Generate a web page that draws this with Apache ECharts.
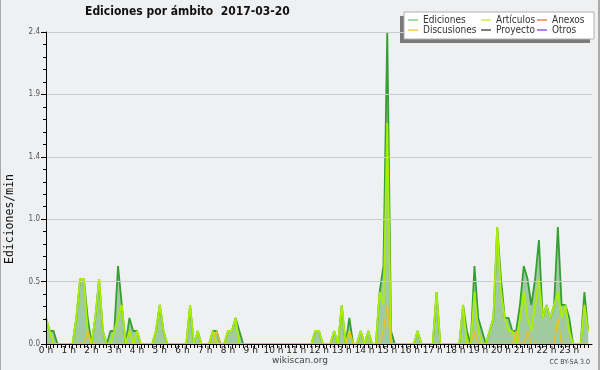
<!DOCTYPE html>
<html>
<head>
<meta charset="utf-8">
<script src="https://cdn.jsdelivr.net/npm/echarts@6/dist/echarts.min.js"></script>
<style>
html,body{margin:0;padding:0;background:#eff0f2;}
#c{width:600px;height:370px;}
</style>
</head>
<body>
<div id="c"></div>
<script>
// Edits per minute, one value per 10-minute slot (0:00 .. 23:50)
const ediciones = [
0.2,0.1,0.1,0,0,0, 0,0,0.2,0.5,0.5,0.2,
0,0.2,0.5,0.1,0,0.1, 0.1,0.6,0.3,0,0.2,0.1,
0.1,0,0,0,0,0.1, 0.3,0.1,0,0,0,0,
0,0,0.3,0,0.1,0, 0,0,0.1,0.1,0,0,
0.1,0.1,0.2,0.1,0,0, 0,0,0,0,0,0,
0,0,0,0,0,0, 0,0,0,0,0,0.1,
0.1,0,0,0,0.1,0, 0.3,0,0.2,0,0,0.1,
0,0.1,0,0,0.4,0.6, 2.4,0.1,0,0,0,0,
0,0,0.1,0,0,0, 0,0.4,0,0,0,0,
0,0,0.3,0.1,0,0.6, 0.2,0.1,0,0.1,0.2,0.9,
0.5,0.2,0.2,0.1,0.1,0.3, 0.6,0.5,0.3,0.5,0.8,0.2,
0.3,0.2,0.3,0.9,0.3,0.3, 0.2,0,0,0,0.4,0.1
];
const articulos = [
0.2,0.1,0,0,0,0, 0,0,0.2,0.5,0.5,0.1,
0,0.2,0.5,0.1,0,0, 0.1,0.2,0.3,0,0.1,0,
0.1,0,0,0,0,0.1, 0.3,0.1,0,0,0,0,
0,0,0.3,0,0.1,0, 0,0,0.1,0,0,0,
0.1,0.1,0.2,0,0,0, 0,0,0,0,0,0,
0,0,0,0,0,0, 0,0,0,0,0,0.1,
0.1,0,0,0,0.1,0, 0.3,0,0.1,0,0,0.1,
0,0.1,0,0,0.4,0.3, 1.7,0,0,0,0,0,
0,0,0.1,0,0,0, 0,0.4,0,0,0,0,
0,0,0.3,0,0,0.4, 0.1,0,0,0.1,0.2,0.9,
0.4,0.2,0.1,0.1,0,0.2, 0.4,0.2,0.1,0.3,0.5,0.2,
0.3,0.2,0.3,0.4,0.2,0.3, 0.1,0,0,0,0.3,0.1
];
const discusiones = [
0,0,0,0,0,0, 0,0,0,0,0,0.1,
0,0,0,0,0,0, 0,0,0,0,0,0,
0,0,0,0,0,0, 0,0,0,0,0,0,
0,0,0,0,0,0, 0,0,0,0.1,0,0,
0,0,0,0,0,0, 0,0,0,0,0,0,
0,0,0,0,0,0, 0,0,0,0,0,0,
0,0,0,0,0,0, 0,0,0.1,0,0,0,
0,0,0,0,0,0.1, 0.3,0,0,0,0,0,
0,0,0,0,0,0, 0,0,0,0,0,0,
0,0,0,0,0,0.1, 0,0,0,0,0,0,
0,0,0,0,0.1,0, 0,0.1,0,0,0,0,
0,0,0,0.2,0,0, 0,0,0,0,0,0
];
const anexos = [];
const proyecto = [];
const otros = [];
const hourLabels = ['0 h','1 h','2 h','3 h','4 h','5 h','6 h','7 h','8 h','9 h','10 h','11 h',
  '12 h','13 h','14 h','15 h','16 h','17 h','18 h','19 h','20 h','21 h','22 h','23 h'];
const yTickLabels = ['0.0','0.5','1.0','1.4','1.9','2.4'];
const slotMinutes = 10;

const pts = arr => arr.map((v, i) => [i * slotMinutes, v]);

const chart = echarts.init(document.getElementById('c'), null, {renderer: 'canvas'});
const legendFont = {fontFamily: 'DejaVu Sans Condensed, DejaVu Sans', fontSize: 10, color: '#333', lineHeight: 10};
const legendBase = {orient: 'vertical', top: 15, padding: 0, itemGap: 0, itemWidth: 10, itemHeight: 1.5, icon: 'rect', textStyle: legendFont, selectedMode: false, z: 30};

chart.setOption({
  animation: false,
  backgroundColor: '#eff0f2',
  grid: {left: 46, right: 8, top: 32, bottom: 26},
  xAxis: {
    type: 'value', min: 0, max: 1440, interval: 10, z: 10,
    axisLine: {lineStyle: {color: '#000', width: 1}},
    axisTick: {show: true, length: 4, lineStyle: {color: '#000'}},
    splitLine: {show: false},
    axisLabel: {
      margin: 2, fontSize: 9, color: '#222', fontFamily: 'DejaVu Sans',
      showMaxLabel: false,
      formatter: v => (v % 60 === 0 && v / 60 < hourLabels.length) ? hourLabels[v / 60] : ''
    }
  },
  yAxis: {
    type: 'value', min: 0, max: 2.4, interval: 0.48, z: 10,
    axisLine: {show: true, lineStyle: {color: '#000', width: 1}},
    axisTick: {show: true, length: 5, lineStyle: {color: '#000'}},
    minorTick: {show: true, splitNumber: 5, length: 3, lineStyle: {color: '#000'}},
    splitLine: {show: true, lineStyle: {color: '#cbcbcb', width: 1}},
    axisLabel: {
      margin: 6, fontSize: 8, color: '#555', fontFamily: 'DejaVu Sans Condensed, DejaVu Sans',
      formatter: v => yTickLabels[Math.round(v / 0.48)]
    }
  },
  legend: [
    Object.assign({}, legendBase, {left: 408, data: [
      {name: 'Ediciones', itemStyle: {color: '#88cc88'}},
      {name: 'Discusiones', itemStyle: {color: '#f5cc44'}}]}),
    Object.assign({}, legendBase, {left: 481, data: [
      {name: 'Artículos', itemStyle: {color: '#ccee55'}},
      {name: 'Proyecto', itemStyle: {color: '#555555'}}]}),
    Object.assign({}, legendBase, {left: 537, data: [
      {name: 'Anexos', itemStyle: {color: '#f08050'}},
      {name: 'Otros', itemStyle: {color: '#9955ee'}}]})
  ],
  series: [
    {name: 'Ediciones', type: 'line', data: pts(ediciones), showSymbol: false, z: 2,
      itemStyle: {color: '#88cc88'}, lineStyle: {color: '#33a033', width: 1.8},
      areaStyle: {color: '#a0caa0', opacity: 1}},
    {name: 'Artículos', type: 'line', data: pts(articulos), showSymbol: false, z: 3,
      itemStyle: {color: '#ccee55'}, lineStyle: {color: '#aaee00', width: 1.8}},
    {name: 'Discusiones', type: 'line', data: pts(discusiones), showSymbol: false, z: 4,
      itemStyle: {color: '#f5cc44'}, lineStyle: {color: '#f0c020', width: 1.3}},
    {name: 'Anexos', type: 'line', data: pts(anexos), showSymbol: false, itemStyle: {color: '#f08050'}},
    {name: 'Proyecto', type: 'line', data: pts(proyecto), showSymbol: false, itemStyle: {color: '#555555'}},
    {name: 'Otros', type: 'line', data: pts(otros), showSymbol: false, itemStyle: {color: '#9955ee'}}
  ],
  graphic: [
    {type: 'rect', z: 10, shape: {x: 400, y: 16, width: 190, height: 27}, style: {fill: '#7a7a7a'}},
    {type: 'rect', z: 11, shape: {x: 404, y: 12, width: 190, height: 27}, style: {fill: '#ffffff', stroke: '#b0b0b0', lineWidth: 1}},
    {type: 'text', left: 85, top: 6, z: 20, style: {text: 'Ediciones por ámbito  2017-03-20',
      font: 'bold 12px "DejaVu Sans Condensed", "DejaVu Sans"', fill: '#111'}},
    {type: 'text', x: 10, y: 219, rotation: Math.PI / 2, z: 20, style: {text: 'Ediciones/min',
      font: '11.5px "DejaVu Sans Mono"', fill: '#111', align: 'center', verticalAlign: 'middle'}},
    {type: 'text', x: 300, y: 361, z: 20, style: {text: 'wikiscan.org',
      font: '9px "DejaVu Sans"', fill: '#444', align: 'center', verticalAlign: 'middle'}},
    {type: 'text', x: 590, y: 362, z: 20, style: {text: 'CC BY-SA 3.0',
      font: '7px "DejaVu Sans Condensed", "DejaVu Sans"', fill: '#444', align: 'right', verticalAlign: 'middle'}},
    {type: 'line', z: 20, shape: {x1: 0.5, y1: 0, x2: 0.5, y2: 370}, style: {stroke: '#aaaaaa', lineWidth: 1}},
    {type: 'line', z: 20, shape: {x1: 599, y1: 0, x2: 599, y2: 370}, style: {stroke: '#aaaaaa', lineWidth: 2}}
  ]
});
</script>
</body>
</html>
